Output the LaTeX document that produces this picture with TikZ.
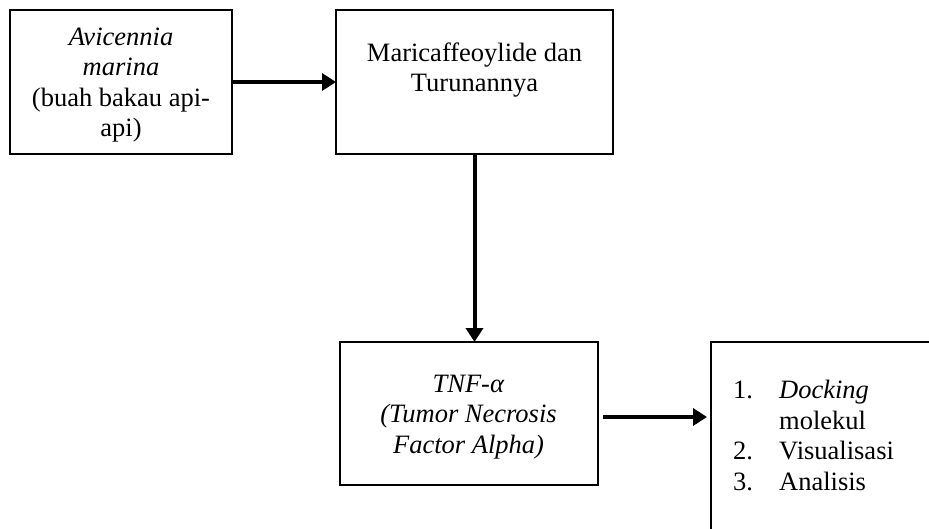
\documentclass[tikz,border=0pt]{standalone}
\usepackage{fontspec}
\setmainfont{Liberation Serif}
\usetikzlibrary{arrows.meta}
\tikzset{
  box/.style={draw, line width=2.7pt, inner sep=0pt, outer sep=0pt},
  txt/.style={align=center, inner sep=0pt, font=\fontsize{26.5}{30.5}\selectfont},
  arr/.style={line width=4pt, -{Triangle[length=14pt,width=17pt]}}
}
\begin{document}
\begin{tikzpicture}[x=1pt,y=-1pt]
\clip (0,0) rectangle (929,528);
\fill[white] (0,0) rectangle (929,528);
% boxes
\node[box, minimum width=222pt, minimum height=144pt] (b1) at (121,82) {};
\node[box, minimum width=277pt, minimum height=144pt] (b2) at (474.5,82) {};
\node[box, minimum width=258pt, minimum height=143pt] (b3) at (469,413.5) {};
\node[box, minimum width=249pt, minimum height=218pt] (b4) at (835.5,451) {};
% texts
\node[txt] (t1) at (121,85) {\textit{Avicennia}\\\textit{marina}\\(buah bakau api-\\api)};
\node[txt] (t2) at (474.5,70) {Maricaffeoylide dan\\Turunannya};
\node[txt] (t3) at (468.5,417) {\textit{TNF-α}\\\textit{(Tumor Necrosis}\\\textit{Factor Alpha)}};
\node[inner sep=0pt, anchor=north west, font=\fontsize{26.5}{30.5}\selectfont] (t4) at (733,377)
  {\begin{tabular}{@{}p{46pt}@{}l@{}}1. & \textit{Docking}\\ & molekul\\ 2. & Visualisasi\\ 3. & Analisis\end{tabular}};
% connectors
\draw[arr] (b1.east) -- (b2.west);
\draw[arr] (b2.south) -- (b2.south |- b3.north);
\draw[arr] ([shift={(5,3.5)}]b3.east) -- ([shift={(-4,-34)}]b4.west);
\end{tikzpicture}
\end{document}
